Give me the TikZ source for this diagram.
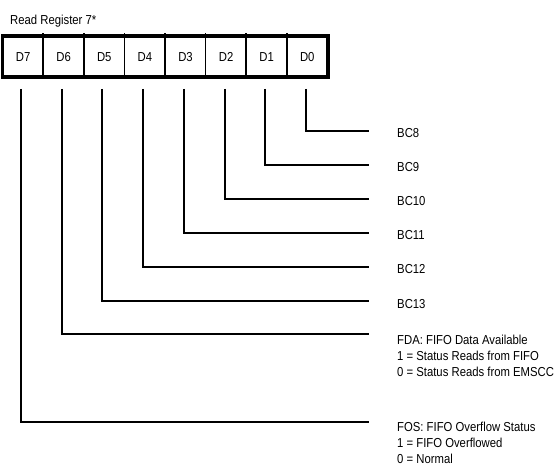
\documentclass[tikz,border=0pt]{standalone}
\usepackage{fontspec}
\setmainfont{Liberation Sans}[FakeStretch=0.87]
\begin{document}
\begin{tikzpicture}[x=1bp,y=-1bp,
  txt/.style={font=\fontsize{13bp}{16bp}\selectfont, inner sep=0pt, anchor=base west, align=left},
  cell/.style={minimum width=40.6bp, minimum height=40.5bp, inner sep=0pt, font=\fontsize{13bp}{15bp}\selectfont},
  wire/.style={line width=2bp},
  divider/.style={line width=1.6bp},
  frame/.style={line width=3.6bp}]
\useasboundingbox (0,0) rectangle (557,465);
\node[txt] (title) at (10,24.5) {Read Register 7*};
% cells
\foreach \i/\n in {0/7,1/6,2/5,3/4,4/3,5/2,6/1,7/0}
  \node[cell] (D\n) at ({23.1+40.6*\i},56.75) {D\n};
\foreach \n in {6,5,4,3,2,1,0}
  \draw[divider] ([yshift=3bp]D\n.north west) -- (D\n.south west);
\draw[frame] (D7.north west) rectangle (D0.south east);
% connector start points
\foreach \i/\n in {0/7,1/6,2/5,3/4,4/3,5/2,6/1,7/0}
  \coordinate (t\n) at ({21+40.7*\i},89);
% connector end points
\coordinate (e0) at (369,131);
\coordinate (e1) at (369,165);
\coordinate (e2) at (369,199);
\coordinate (e3) at (369,233);
\coordinate (e4) at (369,267);
\coordinate (e5) at (369,301);
\coordinate (e6) at (369,334);
\coordinate (e7) at (369,422);
\foreach \n in {0,...,7}
  \draw[wire] (t\n) |- (e\n);
% labels (base = baseline of last line)
\node[txt] (L0) at (397,138) {BC8};
\node[txt] (L1) at (397,172) {BC9};
\node[txt] (L2) at (397,206) {BC10};
\node[txt] (L3) at (397,240) {BC11};
\node[txt] (L4) at (397,274) {BC12};
\node[txt] (L5) at (397,308) {BC13};
\node[txt] (L6) at (397,376.5) {FDA: FIFO Data Available\\1 = Status Reads from FIFO\\0 = Status Reads from EMSCC};
\node[txt] (L7) at (397,463.5) {FOS: FIFO Overflow Status\\1 = FIFO Overflowed\\0 = Normal};
\end{tikzpicture}
\end{document}
